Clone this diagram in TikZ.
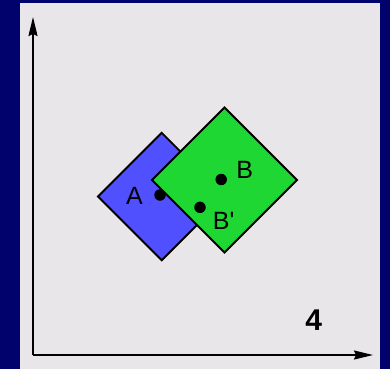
\documentclass[tikz,border=0pt]{standalone}
\usepackage{fontspec}
\setmainfont{Liberation Sans}
\usetikzlibrary{arrows.meta}
\definecolor{navy}{RGB}{2,2,108}
\definecolor{panel}{RGB}{232,230,232}
\definecolor{sqblue}{RGB}{80,80,255}
\definecolor{sqgreen}{RGB}{30,215,50}
\tikzset{
    dot/.style={circle, fill=black, inner sep=0pt, minimum size=11.5pt},
    lbl/.style={font=\fontsize{25}{30}\selectfont, inner sep=0pt, anchor=base},
    axis/.style={line width=1.8pt, -{Stealth[length=19pt, width=9pt, inset=2pt]}},
    square/.style={line width=1.9pt, draw=black}
}

\begin{document}
\begin{tikzpicture}[x=1pt, y=-1pt]
    % frame and panel
    \fill[navy] (0,0) rectangle (390,369);
    \fill[panel] (20,3) rectangle (380,369);
    \useasboundingbox (0,0) rectangle (390,369);

    % axes
    \coordinate (origin) at (33,355);
    \coordinate (ytip) at (33,17);
    \coordinate (xtip) at (373,355);
    \draw[axis] (origin) -- (ytip);
    \draw[axis] (origin) -- (xtip);

    % blue square, then green square on top
    \coordinate (cA) at (161.7,196.5);
    \coordinate (cB) at (224.5,180);
    \draw[square, fill=sqblue] (cA) ++(0,-63.7) -- ++(63.7,63.7) -- ++(-63.7,63.7)
        -- ++(-63.7,-63.7) -- cycle;
    \draw[square, fill=sqgreen] (cB) ++(0,-72.5) -- ++(72.5,72.5) -- ++(-72.5,72.5)
        -- ++(-72.5,-72.5) -- cycle;

    % points and labels
    \node[dot] (ptA) at (160,195) {};
    \node[dot] (ptB) at (221.2,179.5) {};
    \node[dot] (ptBp) at (200,207.3) {};
    \node[lbl] (labA) at (134.5,204) {A};
    \node[lbl] (labB) at (244.8,178.5) {B};
    \node[lbl] (labBp) at (223.7,229) {B\textquotesingle};
    \node[lbl, font=\fontsize{30}{34}\selectfont\bfseries] (num) at (313.8,330) {4};
\end{tikzpicture}
\end{document}
